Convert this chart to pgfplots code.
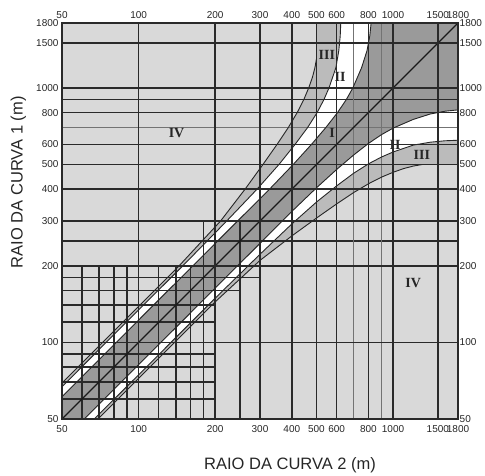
\documentclass[border=0pt]{standalone}
\usepackage{fontspec}
\setmainfont{Liberation Sans}
\newfontfamily\timesf{Liberation Serif}
\usepackage{pgfplots}
\pgfplotsset{compat=1.18}
\definecolor{zI}{HTML}{9A9A9A}
\definecolor{zIII}{HTML}{BBBBBB}
\definecolor{zIV}{HTML}{D9D9D9}
\definecolor{gridc}{HTML}{2A2A2A}
\tikzset{
  gline/.style={gridc, line width=1.5pt},
  lline/.style={black!55, line width=1.0pt},
  bline/.style={black!85, line width=0.9pt},
  zlab/.style={font=\timesf\bfseries\fontsize{14}{14}\selectfont, text=black!85},
}
\begin{document}
\begin{tikzpicture}
\begin{axis}[
  xmode=log, ymode=log, scale only axis, width=396pt, height=396pt,
  xmin=50, xmax=1800, ymin=50, ymax=1800,
  log identify minor tick positions=false,
  xtick={50,100,200,300,400,500,600,800,1000,1500,1800},
  xticklabels={50,100,200,300,400,500,600,800,1000,1500,1800},
  ytick={50,100,200,300,400,500,600,800,1000,1500,1800},
  yticklabels={50,100,200,300,400,500,600,800,1000,1500,\raisebox{-3pt}{1800}},
  major tick length=0pt, minor tick length=0pt,
  ticklabel style={font=\fontsize{10}{12}\selectfont, text=black!85},
  xticklabel style={yshift=-3pt},
  axis on top,
  axis background/.style={fill=zIV},
  grid=major, major grid style={gridc, line width=1.5pt},
  axis line style={gridc, line width=1.5pt},
  xlabel={RAIO DA CURVA 2 (m)}, ylabel={RAIO DA CURVA 1 (m)},
  xlabel style={at={(axis description cs:0.576,-0.116)}, anchor=center, font=\fontsize{16.5}{18}\selectfont, text=black!85},
  ylabel style={at={(axis description cs:-0.11,0.598)}, anchor=center, font=\fontsize{16.5}{18}\selectfont, text=black!85},
]
% Zone III (whole band)
\addplot[fill=zIII, draw=none, forget plot] coordinates {
(50,50) (69.3,50) (100,72.2) (200,144.3) (300,210) (400,262) (500,308) (600,350) (700,388) (800,420) (900,446) (1000,466) (1100,482) (1200,493) (1300,500) (1800,500)
(1800,1800)
(500,1800) (500,1300) (493,1200) (482,1100) (466,1000) (446,900) (420,800) (388,700) (350,600) (308,500) (262,400) (210,300) (144.3,200) (72.2,100) (50,69.3)
} --cycle;
% Zone II
\addplot[fill=white, draw=none, forget plot] coordinates {
(50,50) (67,50) (100,74.6) (200,149.2) (300,222) (400,292) (500,356) (600,412) (700,462) (800,503) (900,535) (1000,560) (1200,596) (1400,612) (1600,620) (1800,623)
(1800,1800)
(623,1800) (620,1600) (612,1400) (596,1200) (560,1000) (535,900) (503,800) (462,700) (412,600) (356,500) (292,400) (222,300) (149.2,200) (74.6,100) (50,67)
} --cycle;
% Zone I
\addplot[fill=zI, draw=none, forget plot] coordinates {
(50,50) (61.2,50) (100,81.7) (150,122.5) (200,163.4) (300,245) (400,327) (500,405) (600,478) (700,545) (800,605) (900,655) (1000,695) (1200,752) (1400,790) (1600,810) (1800,820)
(1800,1800)
(820,1800) (810,1600) (790,1400) (752,1200) (695,1000) (655,900) (605,800) (545,700) (478,600) (405,500) (327,400) (245,300) (163.4,200) (122.5,150) (81.7,100) (50,61.2)
} --cycle;
% extra / partial / light grid lines
\addplot[gline, forget plot] coordinates {(50,250) (1800,250)};
\addplot[gline, forget plot] coordinates {(50,900) (1800,900)};
\addplot[lline, forget plot] coordinates {(700,50) (700,1800)};
\addplot[lline, forget plot] coordinates {(900,50) (900,1800)};
\addplot[lline, forget plot] coordinates {(50,700) (1800,700)};
\addplot[gline, forget plot] coordinates {(60,50) (60,200)};
\addplot[gline, forget plot] coordinates {(70,50) (70,200)};
\addplot[gline, forget plot] coordinates {(80,50) (80,200)};
\addplot[gline, forget plot] coordinates {(90,50) (90,200)};
\addplot[gline, forget plot] coordinates {(120,50) (120,200)};
\addplot[gline, forget plot] coordinates {(140,50) (140,200)};
\addplot[gline, forget plot] coordinates {(160,50) (160,200)};
\addplot[gline, forget plot] coordinates {(180,50) (180,300)};
\addplot[gline, forget plot] coordinates {(250,50) (250,300)};
\addplot[gline, forget plot] coordinates {(50,60) (200,60)};
\addplot[gline, forget plot] coordinates {(50,70) (200,70)};
\addplot[gline, forget plot] coordinates {(50,80) (200,80)};
\addplot[gline, forget plot] coordinates {(50,90) (200,90)};
\addplot[gline, forget plot] coordinates {(50,120) (200,120)};
\addplot[gline, forget plot] coordinates {(50,140) (200,140)};
\addplot[gline, forget plot] coordinates {(50,160) (250,160)};
\addplot[gline, forget plot] coordinates {(50,180) (300,180)};
% zone boundaries
\addplot[bline, forget plot] coordinates {(61.2,50) (100,81.7) (150,122.5) (200,163.4) (300,245) (400,327) (500,405) (600,478) (700,545) (800,605) (900,655) (1000,695) (1200,752) (1400,790) (1600,810) (1800,820)};
\addplot[bline, forget plot] coordinates {(50,61.2) (81.7,100) (122.5,150) (163.4,200) (245,300) (327,400) (405,500) (478,600) (545,700) (605,800) (655,900) (695,1000) (752,1200) (790,1400) (810,1600) (820,1800)};
\addplot[bline, forget plot] coordinates {(67,50) (100,74.6) (200,149.2) (300,222) (400,292) (500,356) (600,412) (700,462) (800,503) (900,535) (1000,560) (1200,596) (1400,612) (1600,620) (1800,623)};
\addplot[bline, forget plot] coordinates {(50,67) (74.6,100) (149.2,200) (222,300) (292,400) (356,500) (412,600) (462,700) (503,800) (535,900) (560,1000) (596,1200) (612,1400) (620,1600) (623,1800)};
\addplot[bline, forget plot] coordinates {(69.3,50) (100,72.2) (200,144.3) (300,210) (400,262) (500,308) (600,350) (700,388) (800,420) (900,446) (1000,466) (1100,482) (1200,493) (1300,500) (1800,500)};
\addplot[bline, forget plot] coordinates {(50,69.3) (72.2,100) (144.3,200) (210,300) (262,400) (308,500) (350,600) (388,700) (420,800) (446,900) (466,1000) (482,1100) (493,1200) (500,1300) (500,1800)};
% diagonal
\addplot[black!90, line width=1.2pt, forget plot] coordinates {(50,50) (1800,1800)};
% zone labels
\node[zlab] at (axis cs:141,664) {IV};
\node[zlab] at (axis cs:1199,171) {IV};
\node[zlab] at (axis cs:549,1349) {III};
\node[zlab] at (axis cs:619,1108) {II};
\node[zlab] at (axis cs:576,664) {I};
\node[zlab] at (axis cs:1018,597) {II};
\node[zlab] at (axis cs:1297,545) {III};
\end{axis}
\begin{axis}[
  xmode=log, ymode=log, scale only axis, width=396pt, height=396pt,
  xmin=50, xmax=1800, ymin=50, ymax=1800,
  log identify minor tick positions=false,
  xtick={50,100,200,300,400,500,600,800,1000,1500,1800},
  xticklabels={50,100,200,300,400,500,600,800,1000,1500,1800},
  ytick={50,100,200,300,400,500,600,800,1000,1500,1800},
  yticklabels={50,100,200,300,400,500,600,800,1000,1500,\raisebox{-7pt}{1800}},
  major tick length=0pt, minor tick length=0pt,
  ticklabel style={font=\fontsize{10}{12}\selectfont, text=black!85},
  xticklabel style={yshift=1pt},
  xticklabel pos=upper, yticklabel pos=right,
  axis line style={draw=none},
  yticklabel style={inner sep=1.5pt}]
\addplot[draw=none, forget plot] coordinates {(50,50) (1800,1800)};
\end{axis}
\pgfresetboundingbox
\path[use as bounding box] (-62pt,-57pt) rectangle (423pt,419pt);
\end{tikzpicture}
\end{document}
